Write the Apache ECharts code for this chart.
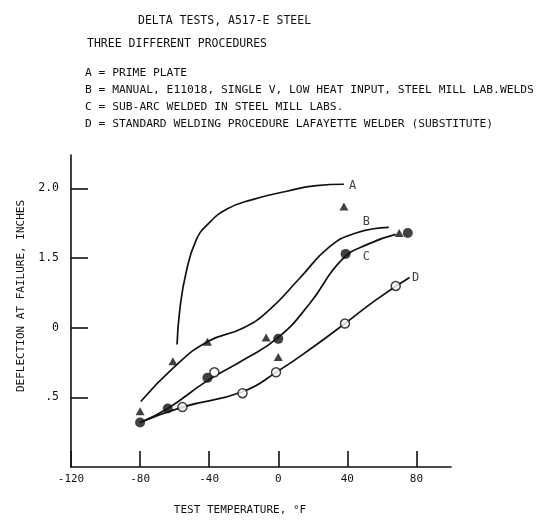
<!DOCTYPE html>
<html>
<head>
<meta charset="utf-8">
<script src="https://cdn.jsdelivr.net/npm/echarts@6/dist/echarts.min.js"></script>
<style>html,body{margin:0;padding:0;background:#fff;}#c{width:538px;height:521px;}</style>
</head>
<body>
<div id="c"></div>
<script>
// ---- data ----
const xTickValues = [-120, -80, -40, 0, 40, 80];
const xTickLabels = ['-120', '-80', '-40', '0', '40', '80'];
const yTickValues = [0.5, 1.0, 1.5, 2.0];
const yTickLabels = ['.5', '0', '1.5', '2.0'];

const triTemp = [-80, -61, -41, -7, 0, 38, 70];
const triDefl = [0.40, 0.76, 0.90, 0.93, 0.79, 1.87, 1.68];

const filledTemp = [-80, -64, -41, 0, 39, 75];
const filledDefl = [0.32, 0.42, 0.64, 0.92, 1.53, 1.68];

const openTemp = [-55.5, -37, -20.7, -1.3, 38.6, 68];
const openDefl = [0.43, 0.68, 0.53, 0.68, 1.03, 1.30];

const curveATemp = [-58.6, -57, -53.3, -47.5, -41, -30, -15, 5, 22, 38];
const curveADefl = [0.88, 1.13, 1.40, 1.63, 1.74, 1.85, 1.92, 1.98, 2.02, 2.03];

const curveBTemp = [-79.6, -60, -41, -20, -5, 12, 29.6, 45, 64];
const curveBDefl = [0.47, 0.72, 0.90, 1.00, 1.13, 1.35, 1.58, 1.68, 1.72];

const curveCTemp = [-80, -64, -41, -20, 0, 18, 37, 52, 68];
const curveCDefl = [0.32, 0.42, 0.62, 0.77, 0.93, 1.17, 1.49, 1.60, 1.67];

const curveDTemp = [-80, -55.5, -20.7, 0, 20, 38.6, 56.6, 76];
const curveDDefl = [0.32, 0.43, 0.54, 0.69, 0.86, 1.03, 1.20, 1.36];

const curveLabelNames = ['A', 'B', 'C', 'D'];
const curveLabelTemp = [43, 51, 51, 79.5];
const curveLabelDefl = [2.02, 1.76, 1.51, 1.36];

const titleLines = ['DELTA TESTS, A517-E STEEL', 'THREE DIFFERENT PROCEDURES'];
const legendLines = [
  'A = PRIME PLATE',
  'B = MANUAL, E11018, SINGLE V, LOW HEAT INPUT, STEEL MILL LAB.WELDS',
  'C = SUB-ARC WELDED IN STEEL MILL LABS.',
  'D = STANDARD WELDING PROCEDURE LAFAYETTE WELDER (SUBSTITUTE)'
];

// ---- chart ----
const FONT = '"DejaVu Sans Mono", "Liberation Mono", monospace';
const INK = '#111';
const zip = (a, b) => a.map((v, i) => [v, b[i]]);

const titleTops = [10, 33];
const titleLefts = [133, 82];
const legendTops = [63, 80, 97, 114];

const titles = [];
titleLines.forEach((t, i) => titles.push({
  text: t, left: titleLefts[i], top: titleTops[i],
  textStyle: { fontFamily: FONT, fontSize: 11.5, fontWeight: 'normal', color: INK }
}));
legendLines.forEach((t, i) => titles.push({
  text: t, left: 80, top: legendTops[i],
  textStyle: { fontFamily: FONT, fontSize: 11.3, fontWeight: 'normal', color: INK }
}));

function curve(name, xs, ys) {
  return {
    name, type: 'line', data: zip(xs, ys), smooth: 0.5,
    showSymbol: false, symbol: 'none',
    lineStyle: { color: INK, width: 1.7 }, z: 2, silent: true
  };
}

const option = {
  animation: false,
  backgroundColor: '#fff',
  title: titles,
  grid: { left: 71, right: 87, top: 155, bottom: 54 },
  xAxis: {
    type: 'value', min: -120, max: 100,
    name: 'TEST TEMPERATURE, °F', nameLocation: 'middle', nameGap: 38,
    nameTextStyle: { fontFamily: FONT, fontSize: 11, color: INK, padding: [0, 42, 0, 0] },
    axisLine: { show: true, onZero: false, lineStyle: { color: INK, width: 1.6 } },
    axisTick: { show: true, inside: true, length: 16, customValues: xTickValues, lineStyle: { color: INK, width: 1.6 } },
    axisLabel: {
      customValues: xTickValues, margin: 7,
      formatter: v => xTickLabels[xTickValues.indexOf(v)] ?? '',
      fontFamily: FONT, fontSize: 11, color: INK
    },
    splitLine: { show: false }
  },
  yAxis: {
    type: 'value', min: 0, max: 2.24,
    name: 'DEFLECTION AT FAILURE, INCHES', nameLocation: 'middle', nameGap: 44, nameRotate: 90,
    nameTextStyle: { fontFamily: FONT, fontSize: 11, color: INK, padding: [0, 0, 0, 30] },
    axisLine: { show: true, onZero: false, lineStyle: { color: INK, width: 1.6 } },
    axisTick: { show: true, inside: true, length: 17, customValues: yTickValues, lineStyle: { color: INK, width: 1.6 } },
    axisLabel: {
      customValues: yTickValues, margin: 12,
      formatter: v => yTickLabels[yTickValues.indexOf(v)] ?? '',
      fontFamily: FONT, fontSize: 11.5, color: INK
    },
    splitLine: { show: false }
  },
  series: [
    curve('A', curveATemp, curveADefl),
    curve('B', curveBTemp, curveBDefl),
    curve('C', curveCTemp, curveCDefl),
    curve('D', curveDTemp, curveDDefl),
    {
      name: 'triangles', type: 'scatter', data: zip(triTemp, triDefl),
      symbol: 'triangle', symbolSize: [9, 8],
      itemStyle: { color: INK }, z: 4
    },
    {
      name: 'filled', type: 'scatter', data: zip(filledTemp, filledDefl),
      symbol: 'circle', symbolSize: 10,
      itemStyle: { color: INK }, z: 4
    },
    {
      name: 'open', type: 'scatter', data: zip(openTemp, openDefl),
      symbol: 'circle', symbolSize: 9,
      itemStyle: { color: '#fff', borderColor: INK, borderWidth: 1.5 }, z: 4
    },
    {
      name: 'labels', type: 'scatter', symbolSize: 0, silent: true,
      data: curveLabelNames.map((n, i) => ({ value: [curveLabelTemp[i], curveLabelDefl[i]], name: n })),
      label: {
        show: true, position: 'inside', formatter: p => p.name,
        fontFamily: FONT, fontSize: 12, color: INK
      }, z: 5
    }
  ]
};

echarts.init(document.getElementById('c'), null, { renderer: 'canvas' }).setOption(option);
</script>
</body>
</html>
